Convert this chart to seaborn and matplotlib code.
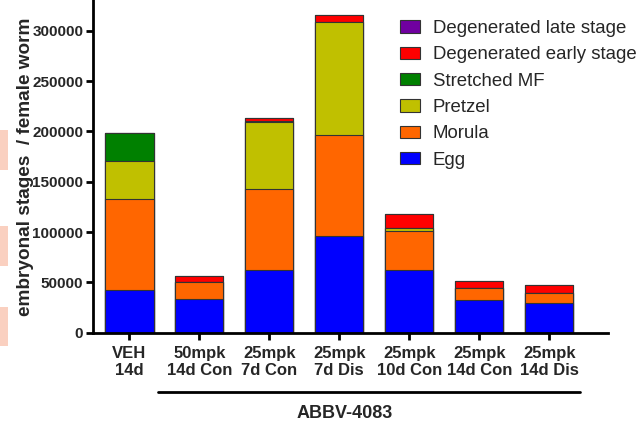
import matplotlib
matplotlib.use("Agg")
import matplotlib.pyplot as plt
from matplotlib.patches import Patch, Rectangle
from matplotlib.lines import Line2D
import seaborn as sns
import numpy as np

categories = ["VEH\n14d", "50mpk\n14d Con", "25mpk\n7d Con", "25mpk\n7d Dis",
              "25mpk\n10d Con", "25mpk\n14d Con", "25mpk\n14d Dis"]
egg = [42000, 33500, 62000, 96000, 62000, 32000, 30000]
morula = [90500, 16500, 80700, 100400, 39000, 12000, 9700]
pretzel = [38000, 0, 67000, 112600, 3300, 0, 0]
stretched_mf = [27500, 0, 1000, 0, 0, 0, 0]
degen_early = [0, 6000, 2500, 7000, 13300, 7300, 7700]
degen_late = [0, 0, 0, 0, 0, 0, 0]

series_names = ["Egg", "Morula", "Pretzel", "Stretched MF",
                "Degenerated early stage", "Degenerated late stage"]
series_vals = [egg, morula, pretzel, stretched_mf, degen_early, degen_late]
series_colors = ["#0000FF", "#FF6600", "#C0C000", "#008000", "#FF0000", "#7000A0"]

sns.set_theme(style="ticks")
plt.rcParams["font.family"] = ["Liberation Sans", "DejaVu Sans"]

fig = plt.figure(figsize=(6.37, 4.23), dpi=100)
ax = fig.add_axes([93 / 637, 1 - 332.7 / 423, (608 - 93) / 637, 332.7 / 423])

cum = np.cumsum(np.array(series_vals, dtype=float), axis=0)
for i in range(len(series_names) - 1, -1, -1):
    sns.barplot(x=categories, y=cum[i], color=series_colors[i], saturation=1,
                edgecolor="#333333", linewidth=0.8, width=0.69, ax=ax,
                order=categories)

ax.set_xlim(-0.52, 6.84)
ax.set_ylim(0, 330500)
ax.set_yticks([0, 50000, 100000, 150000, 200000, 250000, 300000])
ax.set_yticklabels(["0", "50000", "100000", "150000", "200000", "250000", "300000"])
ax.set_ylabel("embryonal stages  / female worm", fontsize=13.7, fontweight="bold",
              labelpad=-1)
ax.set_xlabel("")
for lab in ax.get_yticklabels():
    lab.set_fontweight("bold")
    lab.set_fontsize(11)
for lab in ax.get_xticklabels():
    lab.set_fontweight("bold")
    lab.set_fontsize(12)

sns.despine(ax=ax)
for s in ["left", "bottom"]:
    ax.spines[s].set_linewidth(2)
    ax.spines[s].set_color("black")
ax.tick_params(axis="both", direction="out", length=5, width=2, color="black")
ax.tick_params(axis="y", pad=2)
ax.tick_params(axis="x", pad=4.5)
ax.set_facecolor("white")

handles = [Patch(facecolor=series_colors[i], edgecolor="#333333", linewidth=0.8,
                 label=series_names[i]) for i in range(len(series_names) - 1, -1, -1)]
fs_leg = 13.4
px = fs_leg * 100 / 72
leg = fig.legend(handles=handles, loc="upper left", bbox_to_anchor=(400 / 637, 1 - 20 / 423),
                 frameon=False, fontsize=fs_leg, handlelength=20 / px, handleheight=12 / px,
                 handletextpad=13 / px, labelspacing=0.5, borderpad=0, borderaxespad=0)

fig.add_artist(Line2D([158 / 637, 580 / 637], [1 - 391.7 / 423] * 2, color="black",
                      linewidth=2, transform=fig.transFigure))
fig.text(345 / 637, 1 - 413 / 423, "ABBV-4083", ha="center", va="center",
         fontsize=13, fontweight="bold")

for y0, y1 in [(130, 170), (226, 266), (307, 346)]:
    fig.add_artist(Rectangle((0, 1 - y1 / 423), 8 / 637, (y1 - y0) / 423,
                             transform=fig.transFigure, facecolor="#FAD0C0",
                             edgecolor="none"))

fig.savefig("out.png", dpi=100)
